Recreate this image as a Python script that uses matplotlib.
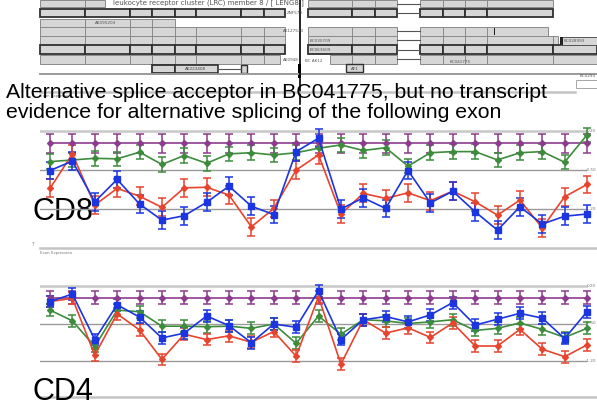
import matplotlib
matplotlib.use("Agg")
import matplotlib.pyplot as plt
from matplotlib.patches import Rectangle

W, H = 597, 407

# ---------------------------------------------------------------- data
exons = list(range(1, 26))
grid_levels = [0.2, -0.5, -1.2]
grid_labels = ["0.20", "-0.50", "-1.20"]

cd8_purple = [-0.02] * 25
cd8_green = [-0.35, -0.32, -0.29, -0.30, -0.18, -0.40, -0.24, -0.38, -0.21, -0.19,
             -0.23, -0.19, -0.11, -0.05, -0.15, -0.10, -0.43, -0.19, -0.17, -0.17,
             -0.32, -0.19, -0.17, -0.36, 0.13]
cd8_red = [-0.83, -0.21, -1.13, -0.83, -0.97, -1.17, -0.82, -0.81, -0.95, -1.52,
           -1.19, -0.50, -0.23, -1.29, -0.92, -1.01, -0.91, -1.05, -0.88, -1.07,
           -1.31, -1.04, -1.54, -0.98, -0.76]
cd8_blue = [-0.51, -0.34, -1.07, -0.67, -1.11, -1.40, -1.32, -1.08, -0.79, -1.15,
            -1.30, -0.17, 0.07, -1.20, -1.00, -1.19, -0.51, -1.09, -0.88, -1.25,
            -1.58, -1.16, -1.47, -1.33, -1.29]

cd4_purple = [-0.02] * 25
cd4_green = [-0.25, -0.45, -0.93, -0.25, -0.28, -0.55, -0.55, -0.56, -0.55, -0.59,
             -0.51, -0.87, -0.36, -0.70, -0.43, -0.45, -0.50, -0.47, -0.43, -0.63,
             -0.59, -0.49, -0.61, -0.76, -0.59]
cd4_red = [-0.09, -0.03, -1.09, -0.32, -0.62, -1.17, -0.70, -0.80, -0.73, -0.85,
           -0.65, -1.11, 0.00, -1.26, -0.43, -0.68, -0.58, -0.76, -0.49, -0.92,
           -0.92, -0.61, -0.98, -1.12, -0.90]
cd4_blue = [-0.09, 0.05, -0.80, -0.15, -0.38, -0.77, -0.68, -0.36, -0.54, -0.86,
            -0.51, -0.57, 0.11, -0.80, -0.43, -0.37, -0.47, -0.34, -0.11, -0.53,
            -0.42, -0.31, -0.40, -0.78, -0.28]

cd8_err = {"purple": 0.17, "green": 0.13, "red": 0.16, "blue": 0.16}
cd4_err = {"purple": 0.12, "green": 0.11, "red": 0.11, "blue": 0.11}

# transcript tracks in genome-browser coordinates: (top, height, spans, bold)
exon_bounds = [40, 85, 130, 152, 175, 196, 241, 264, 285,
               308, 352, 375, 397, 420, 443, 465, 487, 553, 597]
tracks = [
    (0.0, 7.0, [(40, 105), (308, 397), (420, 553)], False),
    (8.5, 8.5, [(40, 285), (308, 397), (420, 553)], True),
    (19.0, 7.5, [(40, 175)], False),
    (27.0, 8.5, [(40, 285), (308, 397), (420, 548)], False),
    (36.0, 8.5, [(40, 285), (308, 397), (420, 558)], False),
    (45.0, 9.0, [(40, 285), (308, 397), (420, 597)], True),
    (55.0, 8.5, [(40, 280), (330, 397), (420, 597)], False),
]
track_labels = [
    (287, 13, "ZNF579"), (95, 23, "AK095204"), (283, 31, "AK127530"),
    (310, 41, "BC030709"), (310, 50, "BC063609"), (283, 60, "AK0948"),
    (305, 61, "BC AK12"), (450, 62, "BC041775"), (564, 41, "BC028993"),
    (580, 76, "BC0293"),
]
gene_title = "leukocyte receptor cluster (LRC) member 8 / [ LENG8 ]"

# ---------------------------------------------------------------- figure
fig = plt.figure(figsize=(W / 100, H / 100), dpi=100)
bg = fig.add_axes([0, 0, 1, 1])
bg.set_xlim(0, W)
bg.set_ylim(H, 0)
bg.axis("off")

FILL = "#d6d6d6"
EDGE = "#8a8a8a"


def draw_span(y, h, a, b, bold):
    cuts = [a] + [x for x in exon_bounds if a < x < b] + [b]
    for x0, x1 in zip(cuts[:-1], cuts[1:]):
        bg.add_patch(Rectangle((x0, y), x1 - x0, h, facecolor=FILL,
                               edgecolor="#303030" if bold else EDGE,
                               lw=1.3 if bold else 0.7))


for y, h, spans, bold in tracks:
    for a, b in spans:
        draw_span(y, h, a, b, bold)
    if any(a <= 397 for a, _ in spans) and any(a >= 420 for a, _ in spans):
        bg.plot([397, 420], [y + h / 2, y + h / 2], color="#555555", lw=0.8)

# short isoform at the bottom of the diagram
draw_span(64.5, 8, 152, 175, True)
bg.add_patch(Rectangle((175, 64.5), 43, 8, facecolor=FILL, edgecolor="#303030", lw=1.2))
bg.plot([218, 241], [68.5, 68.5], color="#555555", lw=0.8)
bg.add_patch(Rectangle((241, 64.5), 6, 8, facecolor=FILL, edgecolor="#303030", lw=1.0))
bg.add_patch(Rectangle((346, 64.0), 17, 8, facecolor=FILL, edgecolor="#303030", lw=1.0))
bg.text(354.5, 68.5, "AF1", fontsize=3, color="#444444", ha="center", va="center")
bg.text(196, 69, "AK223408", fontsize=3, color="#444444", ha="center", va="center")

# gene title box on the first track
bg.add_patch(Rectangle((107, 0), 193, 7, facecolor="white", edgecolor="none"))
bg.text(113, 3, gene_title, fontsize=5, color="#555555", va="center")
for x, y, s in track_labels:
    bg.text(x, y, s, fontsize=3, color="#555555", va="center")

bg.add_patch(Rectangle((494, 27.5), 1.2, 7.5, facecolor="#222222", edgecolor="none"))
bg.add_patch(Rectangle((560, 36.5), 37, 8, facecolor=FILL, edgecolor="#555555", lw=0.7))
bg.add_patch(Rectangle((560, 36.5), 2.5, 8, facecolor="#222222", edgecolor="none"))
bg.plot([40, 597], [73.8, 73.8], color="#9a9a9a", lw=1.4)
bg.add_patch(Rectangle((298, 64), 2.5, 14, facecolor="black", edgecolor="none"))
bg.plot([300.2, 300.2], [0, 104], color="black", lw=1.2)

# panel frames
for yl in (92, 248, 397):
    bg.plot([40, 597 if yl > 100 else 575], [yl, yl], color="#c4c4c4", lw=1.8)
bg.add_patch(Rectangle((576, 80), 21, 8, facecolor="white", edgecolor="#999999", lw=0.6))
bg.text(40, 96, "Exon Expression", fontsize=2.8, color="#777777", va="center")
bg.text(40, 253, "Exon Expression", fontsize=2.8, color="#777777", va="center")
bg.text(32, 245, "?", fontsize=3.5, color="#777777", va="center")

bg.text(6, 98.5, "Alternative splice acceptor in BC041775, but no transcript",
        fontsize=15.3, family="Liberation Sans", color="black", va="baseline")
bg.text(6, 118.5, "evidence for alternative splicing of the following exon",
        fontsize=15.3, family="Liberation Sans", color="black", va="baseline")

COLORS = {"purple": "#8c3c8c", "green": "#3c8c3c", "red": "#e8432d", "blue": "#1b35e0"}
STEP = 22.375


def panel(top_px, bot_px, hi_px, lo_px):
    ax = fig.add_axes([40 / W, 1 - bot_px / H, (W - 40) / W, (bot_px - top_px) / H])
    per_px = (grid_levels[0] - grid_levels[-1]) / (lo_px - hi_px)
    ax.set_ylim(grid_levels[-1] - (bot_px - lo_px) * per_px,
                grid_levels[0] + (hi_px - top_px) * per_px)
    ax.set_xlim(1 - 10 / STEP, 1 + (W - 50) / STEP)
    ax.axis("off")
    xmax = (586 - 40) / (W - 40)
    for i, (lv, lab) in enumerate(zip(grid_levels, grid_labels)):
        ax.axhline(lv, xmin=0, xmax=xmax, color="#c8c8c8" if i == 0 else "#9a9a9a",
                   lw=1.8 if i == 0 else 1.0, zorder=0)
        ax.text(1 + (596 - 50) / STEP, lv, lab, fontsize=3.0, color="#777777",
                va="center", ha="right", clip_on=False)
    return ax


def draw_series(ax, vals, name, err):
    big = name == "blue"
    ax.errorbar(exons, vals, yerr=err[name], color=COLORS[name],
                marker="s" if big else "D", ms=5 if big else 3,
                lw=1.2, elinewidth=1.1, capsize=3.2, capthick=1.1, zorder=3)


ax8 = panel(122, 246, 131, 209)
for nm, v in (("purple", cd8_purple), ("green", cd8_green), ("red", cd8_red), ("blue", cd8_blue)):
    draw_series(ax8, v, nm, cd8_err)

ax4 = panel(270, 395, 286, 361)
for nm, v in (("purple", cd4_purple), ("green", cd4_green), ("red", cd4_red), ("blue", cd4_blue)):
    draw_series(ax4, v, nm, cd4_err)

bg.text(33, 220, "CD8", fontsize=22, family="Liberation Sans", va="baseline", zorder=10)
bg.text(33, 400, "CD4", fontsize=22, family="Liberation Sans", va="baseline", zorder=10)
bg.set_zorder(0)
fig.savefig("out.png", dpi=100)
